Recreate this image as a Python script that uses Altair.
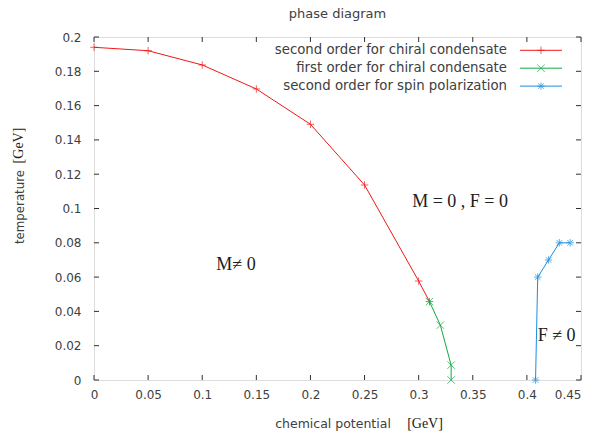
import altair as alt
import pandas as pd

# ---- data ----
red_mu = [0.0, 0.05, 0.10, 0.15, 0.20, 0.25, 0.30, 0.31]
red_T = [0.194, 0.192, 0.1837, 0.1697, 0.1491, 0.1137, 0.0577, 0.0457]
green_mu = [0.31, 0.32, 0.33, 0.33]
green_T = [0.0457, 0.032, 0.0087, 0.0]
blue_mu = [0.408, 0.41, 0.42, 0.43, 0.44]
blue_T = [0.0, 0.06, 0.07, 0.08, 0.08]
series_names = [
    "second order for chiral condensate",
    "first order for chiral condensate",
    "second order for spin polarization",
]
x_ticks = [0, 0.05, 0.1, 0.15, 0.2, 0.25, 0.3, 0.35, 0.4, 0.45]
y_ticks = [0, 0.02, 0.04, 0.06, 0.08, 0.1, 0.12, 0.14, 0.16, 0.18, 0.2]
ann_labels = ["M\u2260 0", "M = 0 , F = 0", "F \u2260 0"]
ann_mu = [0.113, 0.294, 0.410]
ann_T = [0.067, 0.1038, 0.0257]

# ---- styles ----
W, H = 487, 343
colors = ["#f01818", "#10a844", "#1a8ee0"]
plus = "M-1,0L1,0M0,-1L0,1"
cross = "M-1,-1L1,1M-1,1L1,-1"
star = "M-1,0L1,0M0,-1L0,1M-0.75,-0.75L0.75,0.75M-0.75,0.75L0.75,-0.75"
shapes = [plus, cross, star]
SANS = "DejaVu Sans"
SERIF = "Liberation Serif"
TXT = "#404040"
FRAME = "#303030"

rows = []
for name, mus, ts in zip(series_names, [red_mu, green_mu, blue_mu], [red_T, green_T, blue_T]):
    for i, (m, t) in enumerate(zip(mus, ts)):
        rows.append({"series": name, "x": m, "y": t, "i": i})
df = pd.DataFrame(rows)

xscale = alt.Scale(domain=[0, 0.45], nice=False, zero=False)
yscale = alt.Scale(domain=[0, 0.2], nice=False, zero=False)

xaxis = alt.Axis(values=x_ticks, format=".2~f", ticks=False, tickSize=0, domain=False,
                 grid=False, labelPadding=9, labelFont=SANS, labelFontSize=12,
                 labelColor=TXT, labelOverlap=False, labelFlush=False,
                 labelAlign={"condition": {"test": "datum.value >= 0.449", "value": "right"},
                             "value": "center"},
                 title="chemical potential", titleFont=SANS, titleFontSize=12.5,
                 titleFontWeight="normal", titleColor=TXT, titleX=238.5,
                 titleY=43.5, titleBaseline="middle", titleAlign="center")
yaxis = alt.Axis(values=y_ticks, format=".2~f", ticks=False, tickSize=0, domain=False,
                 grid=False, labelPadding=13, labelFont=SANS, labelFontSize=12,
                 labelColor=TXT, labelOverlap=False, labelFlush=False,
                 title="temperature", titleFont=SANS, titleFontSize=11.8,
                 titleFontWeight="normal", titleColor=TXT, titleX=-75,
                 titleY=169.5, titleAngle=270, titleBaseline="middle", titleAlign="center")

X = alt.X("x:Q", scale=xscale, axis=xaxis)
Y = alt.Y("y:Q", scale=yscale, axis=yaxis)
color = alt.Color("series:N", scale=alt.Scale(domain=series_names, range=colors), legend=None)
shape = alt.Shape("series:N", scale=alt.Scale(domain=series_names, range=shapes), legend=None)

lines = alt.Chart(df).mark_line(strokeWidth=1).encode(x=X, y=Y, color=color, order="i:Q")
points = alt.Chart(df).mark_point(filled=False, strokeWidth=1, size=56).encode(
    x=X, y=Y, color=color, shape=shape)

ann_df = pd.DataFrame({"label": ann_labels, "x": ann_mu, "y": ann_T})
ann = alt.Chart(ann_df).mark_text(font=SERIF, fontSize=18, align="left", baseline="middle",
                                  color="#202020").encode(x=X, y=Y, text="label:N")

xt = pd.DataFrame({"x": x_ticks})
yt = pd.DataFrame({"y": y_ticks})
tk = dict(color=FRAME, strokeWidth=1)
tick_b = alt.Chart(xt).mark_rule(**tk).encode(x=X, y=alt.value(H), y2=alt.value(H - 5))
tick_t = alt.Chart(xt).mark_rule(**tk).encode(x=X, y=alt.value(0), y2=alt.value(5))
tick_l = alt.Chart(yt).mark_rule(**tk).encode(y=Y, x=alt.value(0), x2=alt.value(5))
tick_r = alt.Chart(yt).mark_rule(**tk).encode(y=Y, x=alt.value(W), x2=alt.value(W - 5))

# unit labels in serif
unit_df = pd.DataFrame({"u": ["[GeV]"]})
unit_x = alt.Chart(unit_df).mark_text(font=SERIF, fontSize=14, color="#202020",
                                      baseline="middle", align="center").encode(
    text="u:N", x=alt.value(331), y=alt.value(H + 43.5))
unit_y = alt.Chart(unit_df).mark_text(font=SERIF, fontSize=14, color="#202020",
                                      baseline="middle", align="center", angle=270).encode(
    text="u:N", x=alt.value(-75), y=alt.value(108.5))

# legend (inside plot, top right)
legend_layers = []
for k, (name, c, s) in enumerate(zip(series_names, colors, shapes)):
    yy = 13.3 + 17.9 * k
    ld = pd.DataFrame({"label": [name]})
    legend_layers.append(alt.Chart(ld).mark_text(font=SANS, fontSize=13.3, color=TXT,
                                                 align="right", baseline="middle").encode(
        text="label:N", x=alt.value(413), y=alt.value(yy)))
    legend_layers.append(alt.Chart(ld).mark_rule(color=c, strokeWidth=1).encode(
        x=alt.value(426), x2=alt.value(468), y=alt.value(yy)))
    legend_layers.append(alt.Chart(ld).mark_point(shape=s, color=c, filled=False,
                                                  strokeWidth=1, size=56).encode(
        x=alt.value(447), y=alt.value(yy)))

chart = alt.layer(lines, points, ann, tick_b, tick_t, tick_l, tick_r, unit_x, unit_y,
                  *legend_layers).properties(
    width=W, height=H,
    title=alt.TitleParams("phase diagram", font=SANS, fontSize=13, fontWeight="normal",
                          color=TXT, frame="group", offset=10, anchor="middle"),
    autosize=alt.AutoSizeParams(type="none"),
    padding={"left": 86, "top": 29, "right": 4, "bottom": 51},
).configure_view(stroke=FRAME, strokeWidth=1).configure(background="white")

chart.save("out.html", embed_options={"renderer": "svg", "actions": False})
